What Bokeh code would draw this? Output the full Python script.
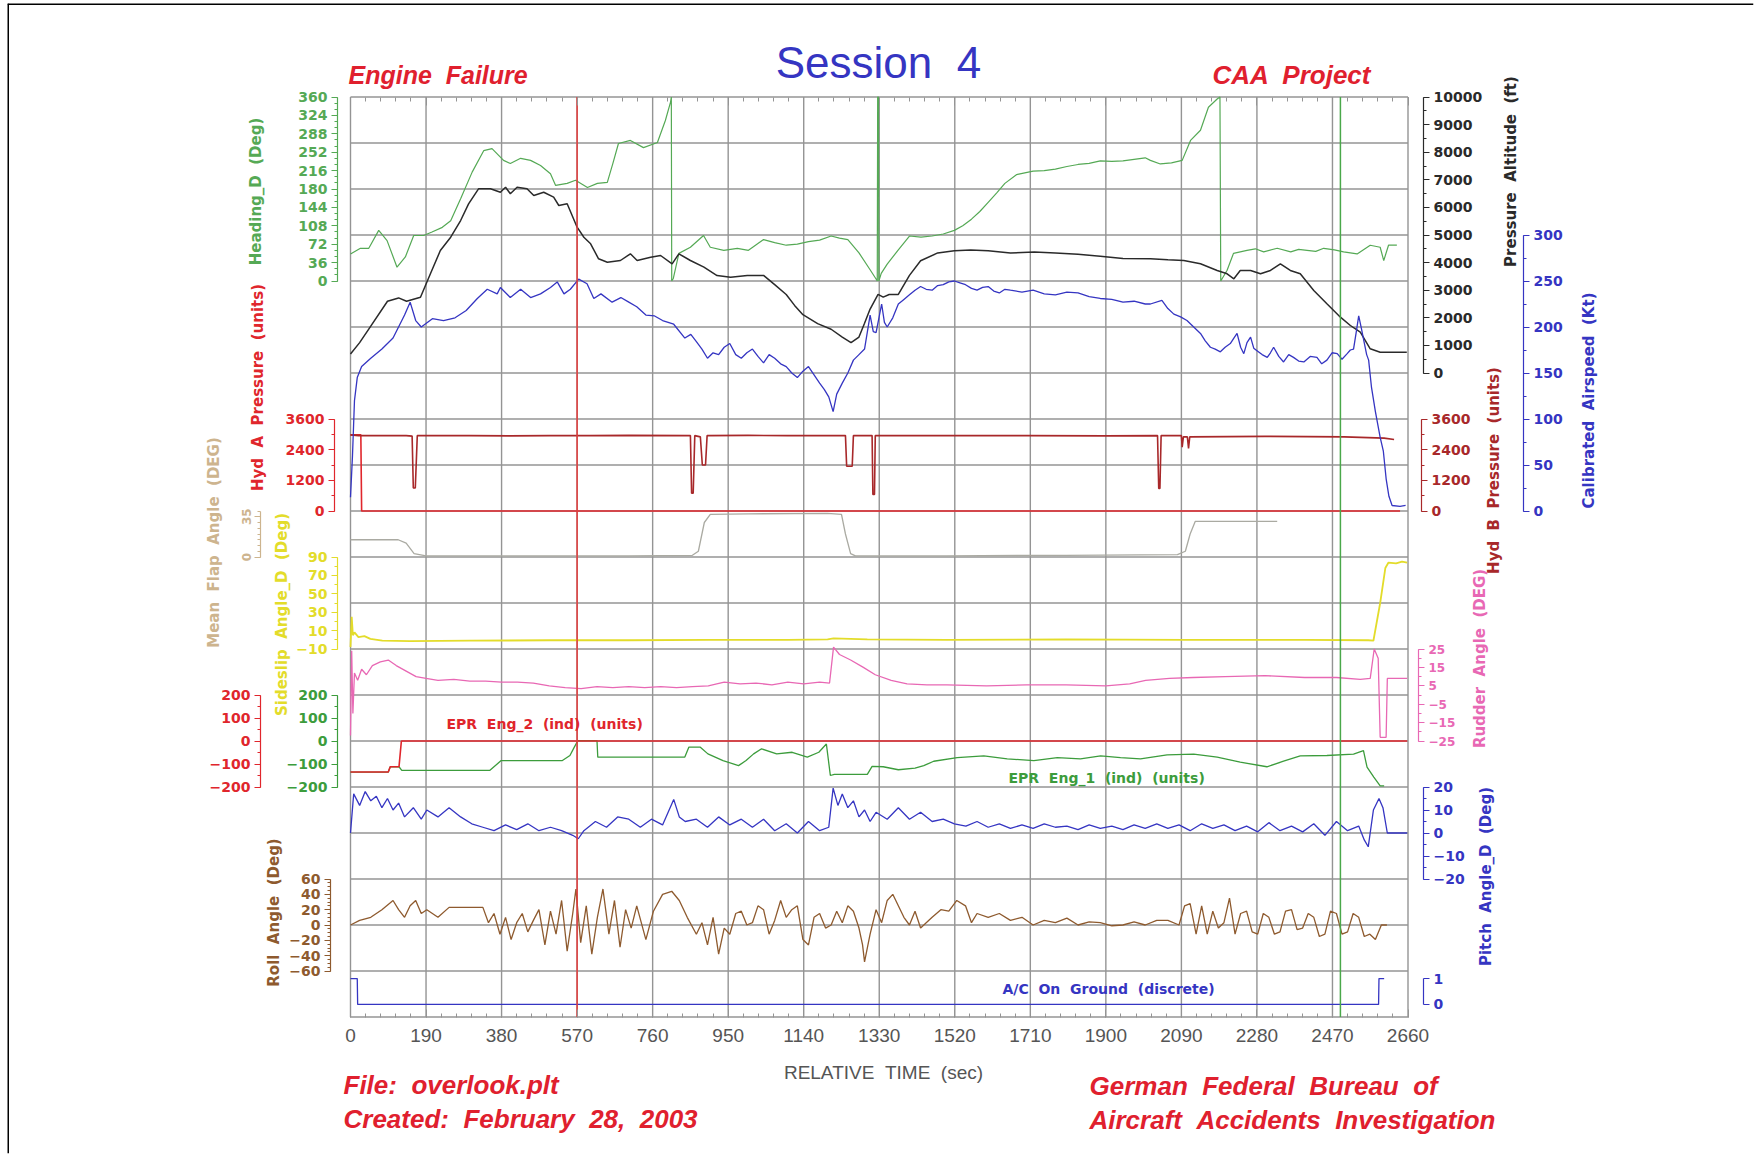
import math
from bokeh.plotting import figure
from bokeh.models import Range1d, LinearAxis, FixedTicker, Label, CustomJSTickFormatter
from bokeh.embed import file_html
from bokeh.resources import INLINE

# ---------------------------------------------------------------- data
x_ticks = [0, 190, 380, 570, 760, 950, 1140, 1330, 1520, 1710, 1900, 2090, 2280, 2470, 2660]

heading_t = [0, 25, 46, 71, 92, 117, 138, 159, 184, 205, 231, 252, 277, 306, 335, 356, 385, 402, 428, 453,
             478, 503, 516, 545, 566, 596, 621, 646, 660, 674, 704, 737, 772, 792, 805, 807, 808, 812, 826, 855,
             888, 905, 939, 973, 1001, 1039, 1067, 1096, 1124, 1152, 1180, 1209, 1230, 1251, 1279, 1307, 1322, 1325, 1326, 1328,
             1329, 1335, 1350, 1378, 1406, 1435, 1463, 1491, 1519, 1540, 1562, 1583, 1604, 1625, 1646, 1675, 1717, 1745, 1773, 1802,
             1830, 1858, 1886, 1915, 1943, 1971, 1999, 2012, 2037, 2065, 2092, 2113, 2138, 2158, 2180, 2187, 2189, 2205, 2221, 2255,
             2276, 2297, 2331, 2365, 2385, 2406, 2428, 2448, 2475, 2498, 2532, 2565, 2590, 2599, 2611, 2632]
heading_deg = [53, 64, 64, 99, 79, 27, 47, 89, 89, 96, 105, 118, 161, 213, 255, 259, 236, 230, 240, 236,
               226, 210, 187, 191, 197, 183, 191, 193, 230, 269, 275, 261, 271, 314, 350, 360, 0, 5, 54, 66,
               89, 66, 60, 64, 60, 81, 75, 70, 72, 77, 80, 88, 84, 81, 55, 22, 4, 0, 360, 360,
               0, 15, 33, 61, 88, 86, 88, 92, 99, 108, 121, 136, 154, 172, 191, 208, 215, 216, 219, 224,
               228, 230, 235, 234, 235, 238, 241, 236, 229, 231, 236, 275, 295, 340, 356, 360, 0, 21, 54, 60,
               63, 57, 64, 57, 62, 60, 58, 64, 61, 57, 53, 70, 66, 40, 70, 70]

altitude_t = [0, 23, 51, 93, 121, 141, 176, 201, 226, 252, 277, 297, 322, 352, 377, 390, 402, 419, 444, 461,
              486, 511, 524, 545, 570, 587, 604, 624, 646, 679, 704, 721, 755, 780, 809, 826, 855, 889, 922, 956,
              998, 1039, 1067, 1096, 1117, 1138, 1175, 1209, 1237, 1259, 1279, 1293, 1307, 1327, 1340, 1355, 1378, 1406, 1434, 1477,
              1519, 1560, 1604, 1660, 1720, 1773, 1830, 1886, 1943, 2012, 2056, 2096, 2138, 2180, 2205, 2222, 2238, 2264, 2289, 2314,
              2339, 2364, 2389, 2423, 2456, 2490, 2515, 2540, 2565, 2590, 2657]
altitude_ft = [690, 1100, 1700, 2600, 2720, 2600, 2746, 3594, 4438, 4920, 5525, 6130, 6674, 6674, 6550, 6732, 6493, 6732, 6674, 6431,
               6550, 6370, 6069, 6130, 5283, 4920, 4680, 4137, 4015, 4076, 4318, 4076, 4197, 4257, 3956, 4318, 4076, 3834, 3532, 3471,
               3532, 3537, 3200, 2846, 2450, 2114, 1789, 1585, 1301, 1098, 1301, 1800, 2317, 2846, 2750, 2846, 2846, 3537, 4065, 4350,
               4431, 4460, 4431, 4350, 4380, 4350, 4300, 4228, 4146, 4137, 4100, 4076, 3956, 3714, 3594, 3413, 3714, 3714, 3594, 3714,
               3956, 3714, 3594, 2989, 2507, 2022, 1721, 1478, 877, 754, 754]

airspeed_t = [0, 5, 10, 17, 28, 51, 79, 107, 136, 150, 164, 178, 206, 234, 263, 291, 319, 344, 369, 377,
              402, 428, 453, 478, 503, 520, 537, 553, 574, 595, 612, 630, 658, 680, 700, 720, 743, 765, 785, 813,
              841, 856, 870, 884, 898, 912, 926, 940, 954, 969, 983, 997, 1011, 1025, 1039, 1053, 1067, 1082, 1096, 1110,
              1124, 1138, 1152, 1166, 1180, 1192, 1203, 1214, 1223, 1237, 1251, 1265, 1279, 1293, 1307, 1315, 1322, 1336, 1343, 1350,
              1364, 1378, 1392, 1406, 1420, 1434, 1448, 1463, 1477, 1491, 1505, 1519, 1533, 1547, 1562, 1576, 1590, 1604, 1618, 1632,
              1646, 1660, 1689, 1717, 1745, 1773, 1802, 1830, 1858, 1886, 1915, 1943, 1971, 1999, 2012, 2041, 2056, 2071, 2088, 2104,
              2121, 2138, 2150, 2163, 2175, 2188, 2200, 2213, 2222, 2230, 2239, 2247, 2255, 2264, 2272, 2281, 2293, 2306, 2314, 2322,
              2335, 2347, 2360, 2372, 2385, 2398, 2414, 2431, 2443, 2456, 2469, 2482, 2494, 2507, 2515, 2523, 2530, 2536, 2543, 2549,
              2556, 2561, 2568, 2578, 2590, 2598, 2605, 2612, 2620, 2640, 2654]
airspeed_kt = [15, 60, 120, 145, 157, 166, 176, 188, 213, 227, 207, 200, 209, 207, 210, 218, 231, 241, 236, 243,
               232, 241, 232, 236, 243, 249, 236, 241, 252, 247, 231, 236, 227, 232, 227, 222, 213, 212, 207, 203,
               188, 192, 184, 176, 166, 172, 170, 178, 182, 170, 166, 172, 176, 168, 161, 170, 166, 160, 157, 150,
               145, 152, 157, 148, 139, 132, 124, 108, 127, 139, 150, 164, 170, 176, 213, 195, 194, 225, 205, 200,
               210, 225, 230, 235, 240, 244, 241, 240, 245, 246, 249, 250, 248, 246, 242, 240, 243, 244, 239, 237,
               241, 240, 238, 240, 236, 235, 238, 237, 233, 231, 230, 227, 228, 225, 225, 229, 220, 214, 211, 207,
               200, 193, 185, 178, 176, 173, 178, 182, 188, 193, 178, 171, 183, 189, 177, 174, 170, 167, 172, 178,
               168, 162, 170, 167, 163, 162, 168, 167, 160, 164, 172, 171, 165, 171, 175, 176, 195, 212, 198, 185,
               170, 164, 135, 108, 80, 65, 35, 16, 6, 5, 6]

hyd_a_t = [0, 20, 140, 155, 158, 163, 168, 300, 400, 500, 600, 700, 855, 858, 862, 866, 880, 885, 893, 897,
           1000, 1100, 1245, 1248, 1262, 1265, 1312, 1314, 1318, 1320, 1500, 1700, 1900, 2030, 2033, 2036, 2039, 2090, 2092, 2095,
           2105, 2108, 2111, 2300, 2500, 2600, 2625]
hyd_a_units = [2980, 2950, 2950, 2930, 900, 900, 2950, 2950, 2940, 2950, 2950, 2960, 2950, 700, 700, 2950, 2900, 1800, 1800, 2950,
               2960, 2950, 2950, 1750, 1750, 2950, 2950, 650, 650, 2950, 2950, 2950, 2940, 2950, 880, 880, 2950, 2950, 2500, 2900,
               2900, 2450, 2900, 2920, 2900, 2850, 2800]

hyd_b_t = [0, 26, 28, 2640]
hyd_b_units = [2980, 2980, 0, 0]

flap_t = [0, 120, 140, 160, 190, 400, 700, 860, 875, 890, 905, 1000, 1200, 1235, 1245, 1258, 1270, 1500, 1800, 2080,
          2100, 2112, 2125, 2200, 2331]
flap_deg = [15, 15, 12, 3, 1, 1, 1, 1.5, 5, 30, 37, 37.5, 38, 37, 20, 3, 1, 1, 1.5, 2,
            5, 20, 31, 31, 31]

sideslip_t = [0, 3, 6, 10, 20, 35, 50, 80, 150, 300, 500, 700, 900, 1100, 1200, 1215, 1300, 1500, 1800, 2100,
              2400, 2560, 2573, 2590, 2603, 2611, 2630, 2645, 2658]
sideslip_deg = [-8, 25, 5, 8, 3, 4, 1, -1, -1.5, -1, -0.5, -0.5, 0, 0, 0.5, 1.5, 0.5, 0, 0.5, 0,
                0, -0.5, -1, 40, 78, 84, 83, 85, 84]

rudder_t = [0, 3, 6, 10, 18, 28, 40, 55, 75, 95, 115, 140, 165, 190, 220, 260, 300, 340, 380, 420,
            460, 500, 540, 580, 620, 660, 700, 740, 780, 820, 860, 900, 940, 980, 1020, 1060, 1100, 1140, 1180, 1205,
            1215, 1230, 1258, 1290, 1320, 1360, 1400, 1450, 1500, 1600, 1700, 1800, 1900, 1960, 2000, 2060, 2120, 2200, 2300, 2400,
            2480, 2540, 2565, 2575, 2585, 2590, 2605, 2608, 2658]
rudder_deg = [-22, 24, -10, 12, 8, 14, 11, 16, 18, 19, 16, 13, 10, 9, 8, 8.5, 7.5, 7.5, 7, 7,
              6.5, 5, 4, 3.5, 4.5, 4, 4.5, 4, 4.5, 4, 4.5, 5, 7, 6, 6.5, 5.5, 7, 6, 7, 6.5,
              26, 22, 19, 15, 11, 8, 6, 5.5, 5.5, 5, 5.5, 5.5, 5, 6, 8, 9, 9.5, 10, 10.5, 9.5,
              9.5, 8.5, 9, 25, 20, -23, -23, 9, 9]

epr2_t = [0, 95, 100, 122, 128, 2658]
epr2_units = [-135, -135, -112, -112, 0, 0]

epr1_t = [0, 95, 100, 122, 129, 350, 379, 533, 552, 562, 572, 620, 622, 841, 851, 880, 899, 937, 976, 995,
          1014, 1034, 1072, 1111, 1149, 1178, 1197, 1207, 1217, 1300, 1312, 1340, 1378, 1420, 1442, 1467, 1526, 1593, 1652, 1719,
          1778, 1836, 1887, 1937, 1987, 2054, 2121, 2180, 2238, 2305, 2347, 2389, 2456, 2523, 2548, 2557, 2574, 2590, 2600]
epr1_units = [-135, -135, -112, -112, -128, -128, -85, -85, -63, -30, 2, 2, -70, -70, -27, -27, -56, -85, -107, -85,
              -56, -34, -56, -49, -70, -49, -13, -150, -145, -145, -110, -112, -125, -118, -107, -88, -72, -65, -78, -85,
              -72, -78, -65, -72, -78, -60, -57, -70, -92, -112, -88, -65, -63, -57, -42, -114, -157, -195, -195]

pitch_t = [0, 8, 23, 37, 51, 65, 79, 93, 107, 121, 136, 158, 178, 192, 220, 248, 277, 305, 333, 361,
           390, 418, 446, 474, 503, 531, 559, 573, 587, 616, 644, 672, 700, 729, 757, 785, 813, 827, 842, 870,
           898, 926, 954, 983, 1011, 1039, 1067, 1096, 1124, 1152, 1180, 1203, 1214, 1226, 1237, 1251, 1265, 1279, 1293, 1307,
           1322, 1350, 1378, 1406, 1434, 1463, 1491, 1519, 1548, 1576, 1604, 1632, 1660, 1689, 1717, 1745, 1773, 1802, 1830, 1858,
           1886, 1915, 1943, 1971, 1999, 2028, 2056, 2084, 2112, 2141, 2169, 2197, 2225, 2254, 2282, 2310, 2338, 2367, 2395, 2423,
           2451, 2480, 2508, 2536, 2550, 2560, 2573, 2587, 2597, 2608, 2658]
pitch_deg = [0, 17, 12, 18, 14, 16, 11, 15, 10, 13, 7, 11, 6, 10, 7, 11, 7, 4, 2.5, 1,
             3.5, 1.5, 4, 1, 2.5, 1, -1, -2.5, 1, 5, 2.5, 7, 6, 2.5, 6, 3.5, 14.6, 7, 5, 6,
             2.5, 7, 3.5, 6, 2.5, 6, 1, 4, 0, 5, 1, 2.5, 19.5, 12, 17, 11, 14, 7, 10, 5,
             9, 6, 11, 6, 9, 5, 6, 4, 3, 5, 2.5, 4, 2, 3.5, 2, 4, 2.5, 3, 1.5, 3.5,
             2, 3, 1.5, 3.5, 2, 4, 2, 3.5, 1, 4, 2, 3.5, 1, 3, 0.5, 4.5, 1, 3, 0.5, 4,
             -1, 5, 1, 3, -3, -6, 10, 15, 11, 0, 0]

roll_t = [0, 23, 51, 79, 107, 121, 136, 150, 164, 178, 192, 220, 248, 333, 347, 361, 376, 390, 404, 418,
          432, 446, 460, 474, 489, 503, 517, 531, 545, 559, 567, 579, 593, 607, 621, 635, 650, 664, 678, 692,
          706, 720, 743, 762, 785, 808, 827, 847, 870, 884, 898, 912, 926, 940, 954, 969, 983, 997, 1011, 1025,
          1039, 1053, 1067, 1082, 1096, 1110, 1124, 1138, 1152, 1166, 1180, 1195, 1209, 1223, 1237, 1251, 1265, 1279, 1288, 1293,
          1307, 1322, 1336, 1350, 1364, 1378, 1392, 1406, 1420, 1434, 1463, 1485, 1505, 1525, 1547, 1562, 1576, 1604, 1632, 1660,
          1689, 1717, 1745, 1773, 1802, 1830, 1858, 1886, 1915, 1943, 1971, 1999, 2028, 2056, 2084, 2098, 2112, 2127, 2141, 2155,
          2169, 2183, 2197, 2211, 2225, 2239, 2254, 2268, 2282, 2296, 2310, 2324, 2338, 2352, 2367, 2381, 2395, 2409, 2423, 2437,
          2451, 2465, 2480, 2494, 2508, 2522, 2536, 2550, 2564, 2578, 2593, 2607]
roll_deg = [0, 6, 10, 20, 32, 20, 10, 25, 32, 15, 20, 10, 23, 23, 3, 15, -12, 10, -19, 3,
            15, -9, 6, 20, -26, 18, -12, 32, -34, 15, 47, -23, 25, -38, 10, 47, -12, 32, -29, 20,
            -4, 25, -19, 18, 40, 44, 32, 10, -12, 3, -26, 10, -38, -4, -12, 15, 18, 0, 3, 25,
            20, -12, 6, 32, 10, 20, 25, -19, -26, 10, 15, -4, 0, 18, 3, 25, 18, -4, -26, -48,
            -12, 20, 3, 32, 40, 25, 10, 0, 18, -4, 10, 20, 18, 32, 25, 3, 15, 10, 15, 6,
            10, 0, 6, 3, 9, 0, 4, 3, -1, 0, 4, 0, 6, 6, 0, 25, 28, -12, 25, -12,
            18, -4, 3, 35, -12, 15, 18, -9, -12, 15, 10, -12, -9, 18, 20, -6, -4, 15, 10, -15,
            -12, 18, 15, -12, -9, 15, 10, -15, -12, -19, 0, 0]

ground_t = [0, 17, 18, 2586, 2587, 2600]
ground_state = [1, 1, 0, 0, 1, 1]

event_t = [570, 2490]

# ---------------------------------------------------------------- layout
W, H = 1754, 1154
FR_L, FR_T, FR_R, FR_B = 7, 3, 1753, 1153
T_MAX = 2660
ROWS = 20
X0, X1, Y_TOP, Y_BOT = 350.0, 1407.5, 96.5, 1016.5


def px2x(X):
    return (X - X0) * T_MAX / (X1 - X0)


def px2y(Y):
    return (Y_BOT - Y) / (Y_BOT - Y_TOP) * ROWS


Y_START, Y_END = px2y(FR_B), px2y(FR_T)


def band(v_lo, row_lo, v_hi, row_hi):
    per_row = (v_hi - v_lo) / (row_lo - row_hi)
    base = ROWS - row_lo
    return Range1d(start=v_lo + (Y_START - base) * per_row, end=v_lo + (Y_END - base) * per_row)


def wide(text):
    return text.replace(" ", " \u00a0")


GREEN = "#55a955"
EGREEN = "#3c9c3c"
BLACK = "#2a2a2a"
BLUE = "#3535c2"
RED = "#e0262c"
DRED = "#a8282a"
TAN = "#cdb48e"
FLAP = "#aaaaa2"
YELLOW = "#e3dc2a"
PINK = "#e868b4"
BROWN = "#8e5a2e"
GRID = "#949494"
TXT_RED = "#e0202e"
FONT = "Liberation Sans"
AFONT = "DejaVu Sans"

p = figure(width=W, height=H, x_range=Range1d(px2x(FR_L), px2x(FR_R)), y_range=Range1d(Y_START, Y_END),
           x_axis_type=None, y_axis_type=None, output_backend="svg", toolbar_location=None,
           min_border_left=FR_L, min_border_right=W - FR_R, min_border_top=FR_T, min_border_bottom=H - FR_B)
p.outline_line_color = None
p.background_fill_color = "white"
p.border_fill_color = "white"

p.extra_y_ranges = {
    "hdg": band(0, 4, 360, 0),
    "alt": band(0, 6, 10000, 0),
    "cas": band(0, 9, 300, 3),
    "hyd": band(0, 9, 3600, 7),
    "flap": band(0, 10, 40, 9),
    "ss": band(-10, 12, 90, 10),
    "rud": band(-25, 14, 25, 12),
    "epr": band(-200, 15, 200, 13),
    "pitch": band(-20, 17, 20, 15),
    "roll": band(-60, 19, 60, 17),
    "gnd": band(0, 19.726, 1, 19.165),
}

# sheet border (left and top edges of the scanned page)
p.segment(x0=[px2x(FR_L), px2x(FR_L)], y0=[Y_START, Y_END], x1=[px2x(FR_L), px2x(FR_R)], y1=[Y_END, Y_END],
          line_color="black", line_width=3)

# grid of the data box, from the tick lists
rows = list(range(ROWS + 1))
p.segment(x0=x_ticks, y0=[0] * len(x_ticks), x1=x_ticks, y1=[ROWS] * len(x_ticks),
          line_color=GRID, line_width=1.4)
p.segment(x0=[0] * len(rows), y0=rows, x1=[T_MAX] * len(rows), y1=rows, line_color=GRID, line_width=1.4)

xax = LinearAxis(fixed_location=0, bounds=(0, T_MAX),
                 ticker=FixedTicker(ticks=x_ticks, minor_ticks=list(range(0, T_MAX + 1, 38))),
                 axis_line_color=None, major_tick_in=8, major_tick_out=0, minor_tick_in=4, minor_tick_out=0,
                 major_tick_line_color=GRID, minor_tick_line_color=GRID,
                 major_label_text_font=FONT, major_label_text_font_size="19px", major_label_text_color="#555555",
                 major_label_standoff=12)
p.add_layout(xax, "below")
top = LinearAxis(fixed_location=ROWS, bounds=(0, T_MAX),
                 ticker=FixedTicker(ticks=x_ticks, minor_ticks=list(range(0, T_MAX + 1, 38))),
                 formatter=CustomJSTickFormatter(code="return ''"),
                 axis_line_color=None, major_tick_in=8, major_tick_out=0, minor_tick_in=4, minor_tick_out=0,
                 major_tick_line_color=GRID, minor_tick_line_color=GRID)
p.add_layout(top, "above")


def yaxis(side, rng, X, ticks, minor, color, bounds, orient="horizontal", size="14px"):
    ax = LinearAxis(y_range_name=rng, fixed_location=px2x(X), bounds=bounds,
                    ticker=FixedTicker(ticks=ticks, minor_ticks=minor),
                    axis_line_color=color, axis_line_width=1.2,
                    major_tick_line_color=color, minor_tick_line_color=color,
                    major_tick_out=6, major_tick_in=0, minor_tick_out=3, minor_tick_in=0,
                    major_label_text_color=color, major_label_text_font=AFONT,
                    major_label_text_font_size=size, major_label_text_font_style="bold",
                    major_label_standoff=4, major_label_orientation=orient)
    p.add_layout(ax, side)


def rng(a, b, s):
    out = []
    v = a
    while v <= b + 1e-9:
        out.append(v)
        v += s
    return out


yaxis("left", "hdg", 337, rng(0, 360, 36), rng(0, 360, 12), GREEN, (0, 360))
yaxis("left", "hyd", 334, rng(0, 3600, 1200), rng(0, 3600, 600), RED, (0, 3600))
yaxis("left", "flap", 260, [0, 35], rng(0, 40, 5), TAN, (0, 40), orient="vertical", size="12px")
yaxis("left", "ss", 337, rng(-10, 90, 20), rng(-10, 90, 10), YELLOW, (-10, 90))
yaxis("left", "epr", 260, rng(-200, 200, 100), rng(-200, 200, 50), RED, (-200, 200))
yaxis("left", "epr", 337, rng(-200, 200, 100), rng(-200, 200, 50), EGREEN, (-200, 200))
yaxis("left", "roll", 330, rng(-60, 60, 20), rng(-60, 60, 5), BROWN, (-60, 60))

yaxis("right", "alt", 1423, rng(0, 10000, 1000), rng(0, 10000, 500), BLACK, (0, 10000))
yaxis("right", "cas", 1523, rng(0, 300, 50), rng(0, 300, 25), BLUE, (0, 300))
yaxis("right", "hyd", 1421, rng(0, 3600, 1200), rng(0, 3600, 600), DRED, (0, 3600))
yaxis("right", "rud", 1418, rng(-25, 25, 10), rng(-25, 25, 5), PINK, (-25, 25), size="12px")
yaxis("right", "pitch", 1423, rng(-20, 20, 10), rng(-20, 20, 5), BLUE, (-20, 20))
yaxis("right", "gnd", 1423, [0, 1], [], BLUE, (0, 1))

# --- traces
p.line(flap_t, flap_deg, y_range_name="flap", line_color=FLAP, line_width=1.3)
p.line(hyd_b_t, hyd_b_units, y_range_name="hyd", line_color=RED, line_width=1.6)
p.line(hyd_a_t, hyd_a_units, y_range_name="hyd", line_color=DRED, line_width=1.6)
p.line(heading_t, heading_deg, y_range_name="hdg", line_color=GREEN, line_width=1.2)
p.line(altitude_t, altitude_ft, y_range_name="alt", line_color=BLACK, line_width=1.5)
p.line(airspeed_t, airspeed_kt, y_range_name="cas", line_color=BLUE, line_width=1.3)
p.line(sideslip_t, sideslip_deg, y_range_name="ss", line_color=YELLOW, line_width=1.8)
p.line(rudder_t, rudder_deg, y_range_name="rud", line_color=PINK, line_width=1.3)
p.line(epr1_t, epr1_units, y_range_name="epr", line_color=EGREEN, line_width=1.3)
p.line(epr2_t, epr2_units, y_range_name="epr", line_color=RED, line_width=1.6)
p.line(pitch_t, pitch_deg, y_range_name="pitch", line_color=BLUE, line_width=1.3)
p.line(roll_t, roll_deg, y_range_name="roll", line_color=BROWN, line_width=1.3)
p.line(ground_t, ground_state, y_range_name="gnd", line_color=BLUE, line_width=1.3)

p.segment(x0=event_t, y0=[0] * len(event_t), x1=event_t, y1=[ROWS] * len(event_t),
          line_color=["#e43c3c", "#4aa84a"], line_width=1.5)


# --- texts
def label(X, Y, text, color, size="15px", style="bold", angle=0.0, align="center", font=AFONT):
    p.add_layout(Label(x=px2x(X), y=px2y(Y), text=wide(text), text_color=color, text_font=font,
                       text_font_size=size, text_font_style=style, angle=angle,
                       text_align=align, text_baseline="middle"))


V = math.pi / 2
label(255, 191, "Heading_D (Deg)", GREEN, angle=V)
label(257, 387, "Hyd A Pressure (units)", RED, angle=V)
label(213, 542, "Mean Flap Angle (DEG)", TAN, angle=V)
label(281, 614, "Sideslip Angle_D (Deg)", YELLOW, angle=V)
label(273, 912, "Roll Angle (Deg)", BROWN, angle=V)
label(1510, 171, "Pressure Altitude (ft)", BLACK, angle=V)
label(1588, 400, "Calibrated Airspeed (Kt)", BLUE, angle=V)
label(1493, 470, "Hyd B Pressure (units)", DRED, angle=V)
label(1479, 658, "Rudder Angle (DEG)", PINK, angle=V)
label(1485, 876, "Pitch Angle_D (Deg)", BLUE, angle=V)

label(446, 723, "EPR Eng_2 (ind) (units)", RED, size="14px", align="left")
label(1008, 777, "EPR Eng_1 (ind) (units)", EGREEN, size="14px", align="left")
label(1002, 988, "A/C On Ground (discrete)", BLUE, size="14px", align="left")
label(883, 1072, "RELATIVE TIME (sec)", "#555555", size="19px", style="normal", font=FONT)

label(878, 62, "Session 4", BLUE, size="44px", style="normal", font=FONT)
label(348, 74, "Engine Failure", TXT_RED, size="25px", style="bold italic", align="left", font=FONT)
label(1212, 74, "CAA Project", TXT_RED, size="26px", style="bold italic", align="left", font=FONT)
label(343, 1084, "File: overlook.plt", TXT_RED, size="26px", style="bold italic", align="left", font=FONT)
label(343, 1118, "Created: February 28, 2003", TXT_RED, size="26px", style="bold italic", align="left", font=FONT)
label(1089, 1085, "German Federal Bureau of", TXT_RED, size="26px", style="bold italic", align="left", font=FONT)
label(1089, 1119, "Aircraft Accidents Investigation", TXT_RED, size="26px", style="bold italic", align="left", font=FONT)

open("out.html", "w").write(file_html(p, INLINE))
